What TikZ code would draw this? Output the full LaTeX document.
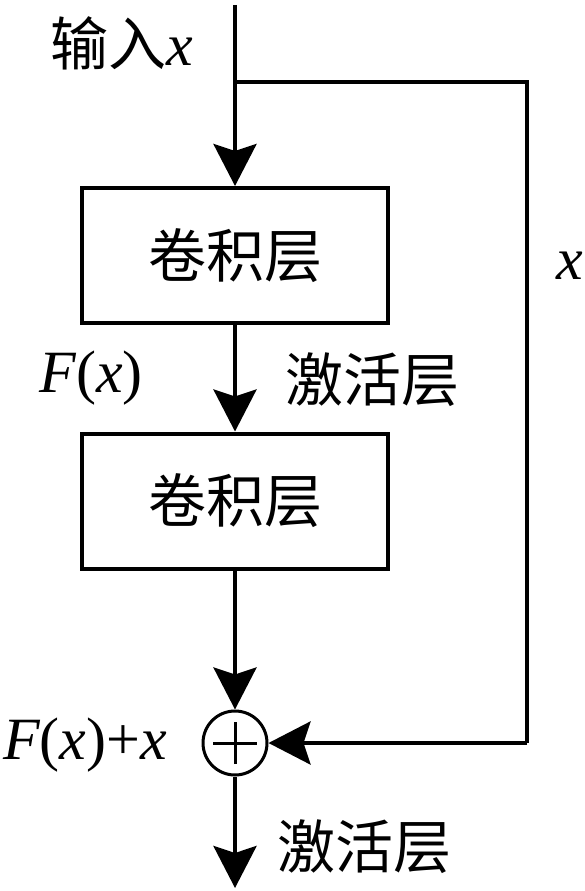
\documentclass[tikz,border=0pt]{standalone}
\usepackage{fontspec}
\setmainfont{Liberation Serif}
\newfontfamily\cjk{Noto Sans CJK SC}
\usetikzlibrary{arrows.meta}
\begin{document}
\begin{tikzpicture}[x=1pt,y=-1pt,
  ln/.style={line width=4pt},
  arr/.style={line width=4pt,-{Stealth[length=42pt,width=43pt,inset=7pt]}},
  blk/.style={draw,line width=4pt,minimum width=306pt,minimum height=135pt,inner sep=0pt,font=\cjk\fontsize{58}{64}\selectfont},
  cn/.style={inner sep=0pt,font=\cjk\fontsize{58}{64}\selectfont},
  lt/.style={inner sep=0pt,font=\fontsize{60}{66}\selectfont},
  sumc/.style={draw,circle,line width=3pt,minimum size=64pt,inner sep=0pt}]
\useasboundingbox (0,0) rectangle (585,891);
\coordinate (top) at (235,5);
\coordinate (br) at (235,82);
\coordinate (rt) at (527,82);
\coordinate (rb) at (527,743);
\coordinate (bot) at (235,888);
\node[blk] (b1) at (235,255.5) {卷积层};
\node[blk] (b2) at (235,501) {卷积层};
\node[sumc] (sum) at (235,743) {};
\draw[line width=3pt] ([xshift=-22pt]sum.center) -- ([xshift=22pt]sum.center);
\draw[line width=3pt] ([yshift=-21pt]sum.center) -- ([yshift=21pt]sum.center);
\draw[arr] (top) -- (b1.north);
\draw[arr] (b1.south) -- (b2.north);
\draw[arr] (b2.south) -- (sum.north);
\draw[ln,line join=miter] (br) -- (rt) -- (rb);
\draw[arr] (rb) -- (sum.east);
\draw[arr] (sum.south) -- (bot);
\node[anchor=west,inner sep=0pt] (in) at (50,43) {{\cjk\fontsize{58}{64}\selectfont 输入}{\fontsize{60}{66}\selectfont\itshape x}};
\node[lt,anchor=east] (fx) at (143,378) {\itshape F\upshape(\itshape x\upshape)};
\node[cn,anchor=west] (act1) at (285,380) {激活层};
\node[lt] (xr) at (570,266) {\itshape x};
\node[lt,anchor=west] (fxx) at (3,745) {\itshape F\upshape(\itshape x\upshape)+\itshape x};
\node[cn,anchor=west] (act2) at (277,847) {激活层};
\end{tikzpicture}
\end{document}
